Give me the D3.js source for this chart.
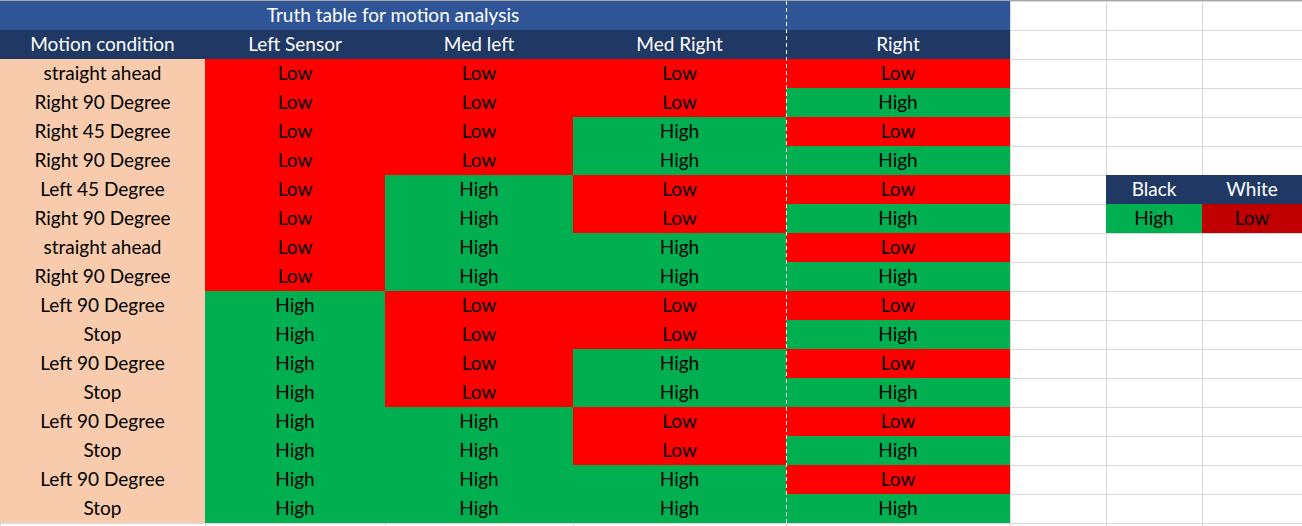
<!DOCTYPE html>
<html><head><meta charset="utf-8">
<script src="https://cdn.jsdelivr.net/npm/d3@7"></script>
<style>body{margin:0;background:#fff}svg{display:block}text{font-family:Lato,"Open Sans",sans-serif}</style>
</head><body><svg id="c" width="1302" height="526"></svg>
<script>
const title = "Truth table for motion analysis";
const headers = ["Motion condition", "Left Sensor", "Med left", "Med Right", "Right"];
const conditions = ["straight ahead","Right 90 Degree","Right 45 Degree","Right 90 Degree","Left 45 Degree","Right 90 Degree","straight ahead","Right 90 Degree","Left 90 Degree","Stop","Left 90 Degree","Stop","Left 90 Degree","Stop","Left 90 Degree","Stop"];
const leftSensor = ["Low","Low","Low","Low","Low","Low","Low","Low","High","High","High","High","High","High","High","High"];
const medLeft    = ["Low","Low","Low","Low","High","High","High","High","Low","Low","Low","Low","High","High","High","High"];
const medRight   = ["Low","Low","High","High","Low","Low","High","High","Low","Low","High","High","Low","Low","High","High"];
const right      = ["Low","High","Low","High","Low","High","Low","High","Low","High","Low","High","Low","High","Low","High"];
const legendHeaders = ["Black", "White"];
const legendValues = ["High", "Low"];

const colEdges = [0, 205, 385, 573, 786, 1010, 1106, 1202, 1302];
const rowTop = 1, rowH = 29, nRows = 18;
const svg = d3.select("#c");
const x = i => colEdges[i];
const y = d3.scaleLinear().domain([0, nRows]).range([rowTop, rowTop + rowH * nRows]);

// empty sheet grid
const g = svg.append("g").attr("stroke", "#d9d9d9").attr("stroke-width", 1);
colEdges.forEach(c => g.append("line").attr("x1", c + .5).attr("x2", c + .5).attr("y1", 0).attr("y2", 526));
d3.range(nRows + 1).forEach(r => g.append("line").attr("x1", 0).attr("x2", 1302).attr("y1", y(r) + .5).attr("y2", y(r) + .5));
svg.append("rect").attr("x", 0).attr("y", 0).attr("width", 1302).attr("height", 1).attr("fill", "#a6a6a6");

function cell(c0, c1, r, fill, txt, color) {
  svg.append("rect").attr("x", x(c0)).attr("y", y(r)).attr("width", x(c1) - x(c0)).attr("height", rowH).attr("fill", fill);
  if (txt) svg.append("text").attr("x", (x(c0) + x(c1)) / 2).attr("y", y(r) + rowH / 2 + 6.5)
    .attr("text-anchor", "middle").attr("font-size", 19).attr("fill", color).text(txt);
}
const valFill = v => v === "High" ? "#00b050" : "#ff0000";

cell(0, 4, 0, "#2f5597", title, "#fff");
cell(4, 5, 0, "#2f5597", null);
headers.forEach((h, i) => cell(i, i + 1, 1, "#203864", h, "#fff"));
const cols = [leftSensor, medLeft, medRight, right];
conditions.forEach((c, r) => {
  cell(0, 1, r + 2, "#f8cbad", c, "#000");
  cols.forEach((arr, j) => cell(j + 1, j + 2, r + 2, valFill(arr[r]), arr[r], "#000"));
});
svg.append("line").attr("x1", 786.5).attr("x2", 786.5).attr("y1", y(0)).attr("y2", y(nRows))
  .attr("stroke", "#fff").attr("stroke-dasharray", "4,3");

legendHeaders.forEach((h, i) => cell(6 + i, 7 + i, 6, "#203864", h, "#fff"));
legendValues.forEach((v, i) => cell(6 + i, 7 + i, 7, v === "High" ? "#00b050" : "#c00000", v, "#000"));
</script></body></html>
